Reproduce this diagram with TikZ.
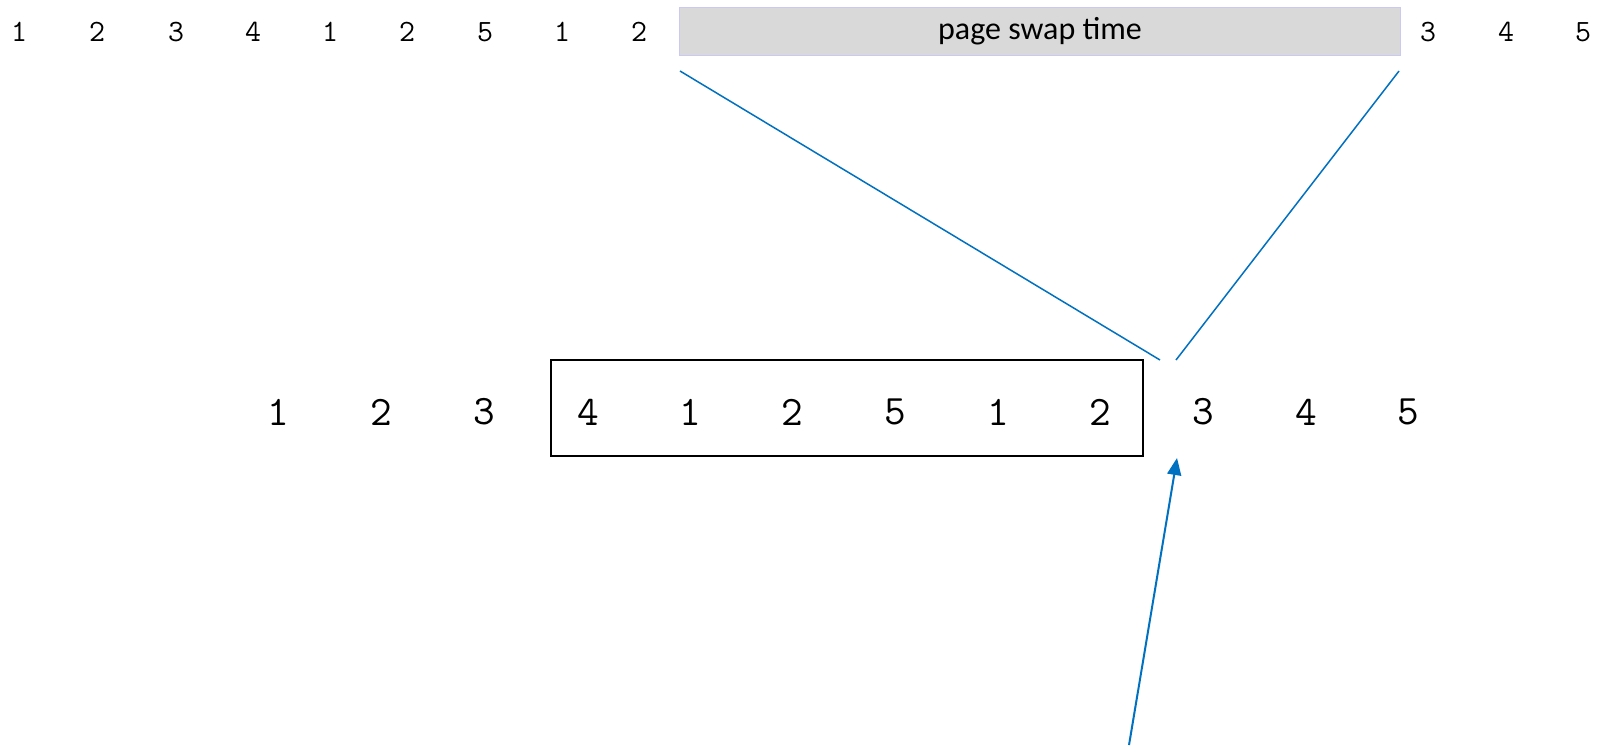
\documentclass[tikz,border=0pt]{standalone}
\usepackage{fontspec}
\newfontfamily\carlito{Carlito}
\usetikzlibrary{arrows.meta}
\definecolor{lineblue}{HTML}{0070C0}
\definecolor{boxgray}{HTML}{D9D9D9}
\definecolor{boxedge}{HTML}{C9C9F2}
\tikzset{
  topdigit/.style={font=\fontsize{15.5}{15.5}\selectfont\ttfamily, inner sep=0pt},
  middigit/.style={font=\fontsize{21}{21}\selectfont\ttfamily, inner sep=0pt},
  swapbox/.style={fill=boxgray, draw=boxedge, line width=0.6pt, inner sep=0pt, font=\carlito\fontsize{16}{16}\selectfont},
  windowbox/.style={draw=black, line width=0.8pt},
  blueline/.style={draw=lineblue, line width=0.75pt},
  bluearrow/.style={draw=lineblue, line width=1pt, -{Triangle[length=8.5pt,width=7pt]}},
}
\begin{document}
\begin{tikzpicture}[x=0.5pt, y=-0.5pt]
\useasboundingbox (0,0) rectangle (1598,745);
% top row
\node[topdigit] (t1) at (19,32) {1};
\node[topdigit] (t2) at (97,32) {2};
\node[topdigit] (t3) at (176,32) {3};
\node[topdigit] (t4) at (253,32) {4};
\node[topdigit] (t5) at (330,32) {1};
\node[topdigit] (t6) at (407,32) {2};
\node[topdigit] (t7) at (485,32) {5};
\node[topdigit] (t8) at (562,32) {1};
\node[topdigit] (t9) at (639,32) {2};
\node[swapbox, minimum width=721*0.5pt, minimum height=48*0.5pt] (swap) at (1040,31.5) {\raisebox{-1pt}{page swap time}};
\node[topdigit] (t10) at (1428,32) {3};
\node[topdigit] (t11) at (1506,32) {4};
\node[topdigit] (t12) at (1583,32) {5};
% middle window
\draw[windowbox] (551,360) rectangle (1143,456);
\node[middigit] (m1) at (278,412) {1};
\node[middigit] (m2) at (381,412) {2};
\node[middigit] (m3) at (484,412) {3};
\node[middigit] (m4) at (588,412) {4};
\node[middigit] (m5) at (690,412) {1};
\node[middigit] (m6) at (792,412) {2};
\node[middigit] (m7) at (895,412) {5};
\node[middigit] (m8) at (998,412) {1};
\node[middigit] (m9) at (1100,412) {2};
\node[middigit] (m10) at (1203,412) {3};
\node[middigit] (m11) at (1306,412) {4};
\node[middigit] (m12) at (1408,412) {5};
% connectors
\coordinate (sl) at (680,71);
\coordinate (sr) at (1399,71);
\coordinate (el) at (1160,360);
\coordinate (er) at (1176,360);
\coordinate (arrowstart) at (1129,745);
\coordinate (arrowtip) at (1177,458);
\draw[blueline] (sl) -- (el);
\draw[blueline] (sr) -- (er);
\draw[bluearrow] (arrowstart) -- (arrowtip);
\end{tikzpicture}
\end{document}
